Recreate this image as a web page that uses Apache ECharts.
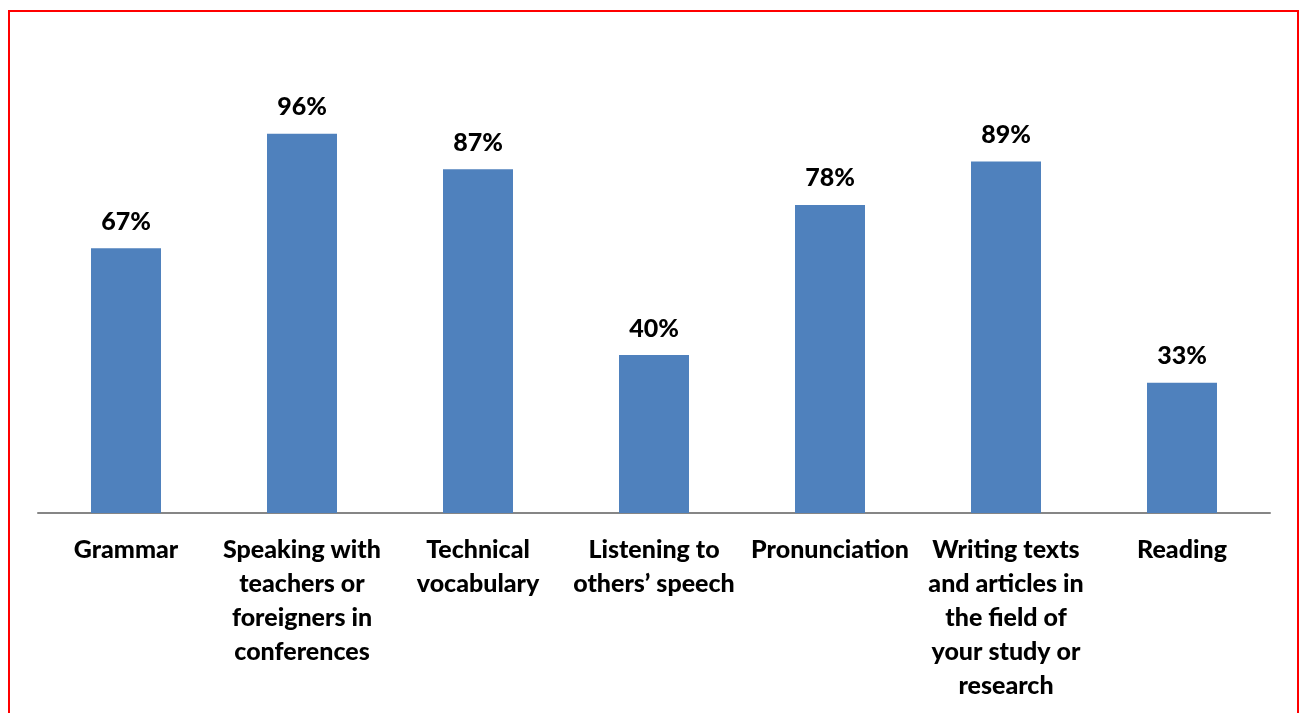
<!DOCTYPE html>
<html>
<head>
<meta charset="utf-8">
<script src="https://cdn.jsdelivr.net/npm/echarts@6/dist/echarts.min.js"></script>
<style>
  html, body { margin: 0; padding: 0; background: #fff; }
  #chart { width: 1304px; height: 713px; }
</style>
</head>
<body>
<div id="chart"></div>
<script>
// Skills categories (line breaks as shown under the axis)
const categories = [
  'Grammar',
  'Speaking with\nteachers or\nforeigners in\nconferences',
  'Technical\nvocabulary',
  'Listening to\nothers\u2019 speech',
  'Pronunciation',
  'Writing texts\nand articles in\nthe field of\nyour study or\nresearch',
  'Reading'
];
// Share of respondents, in percent
const values = [67, 96, 87, 40, 78, 89, 33];

const FONT = 'Lato, "Open Sans", sans-serif';

const chart = echarts.init(document.getElementById('chart'));
chart.setOption({
  animation: false,
  backgroundColor: '#ffffff',
  textStyle: { fontFamily: FONT },
  graphic: [{
    type: 'rect',
    shape: { x: 9, y: 11, width: 1289, height: 800 },
    style: { fill: 'none', stroke: '#ff0000', lineWidth: 2 },
    silent: true
  }],
  grid: { left: 38, right: 34, top: 118, bottom: 200 },
  xAxis: {
    type: 'category',
    data: categories,
    axisLine: { show: true, lineStyle: { color: '#868686', width: 2 } },
    axisTick: { show: false },
    axisLabel: {
      interval: 0,
      margin: 20,
      color: '#000',
      fontSize: 25,
      fontWeight: 900,
      lineHeight: 34,
      fontFamily: FONT
    }
  },
  yAxis: {
    type: 'value',
    min: 0,
    max: 100,
    show: false,
    splitLine: { show: false }
  },
  series: [{
    type: 'bar',
    data: values,
    barWidth: 70,
    itemStyle: { color: '#4f81bd' },
    label: {
      show: true,
      position: 'top',
      distance: 14,
      formatter: '{c}%',
      color: '#000',
      fontSize: 25,
      fontWeight: 900,
      fontFamily: FONT
    }
  }]
});
</script>
</body>
</html>
